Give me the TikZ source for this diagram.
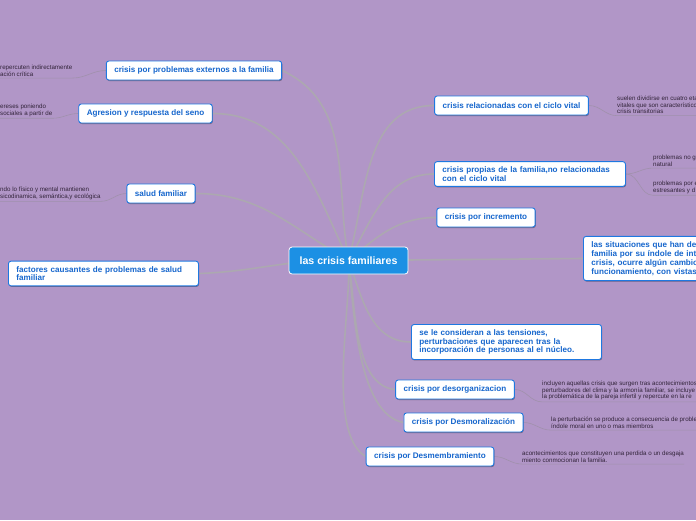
\documentclass[tikz,border=0pt]{standalone}
\usepackage{fontspec}
\setmainfont{Liberation Sans}
\usetikzlibrary{shadows}
\definecolor{bgc}{RGB}{177,150,199}
\definecolor{boxblue}{RGB}{30,120,225}
\definecolor{txtblue}{RGB}{22,102,205}
\definecolor{rootblue}{RGB}{28,144,228}
\definecolor{connc}{RGB}{172,168,176}
\definecolor{subc}{RGB}{160,145,172}
\definecolor{sidec}{RGB}{50,36,58}
\pgfdeclarelayer{bglayer}\pgfsetlayers{bglayer,main}
\begin{document}
\begin{tikzpicture}[x=1pt,y=-1pt,
 box/.style={draw=boxblue, line width=0.9pt, fill=white, rounded corners=2.5pt,
   font=\fontsize{8.1}{8.7}\selectfont\bfseries, text=txtblue, inner xsep=8pt, inner ysep=5pt,
   minimum height=19pt, align=left,
   drop shadow={shadow xshift=0.6pt, shadow yshift=-1pt, opacity=0.35, fill=black}},
 rootbox/.style={draw=white, line width=0.8pt, fill=rootblue, rounded corners=3pt,
   font=\fontsize{10.6}{12}\selectfont\bfseries, text=white, minimum width=119pt, minimum height=27pt, inner sep=2pt},
 sidetxt/.style={font=\fontsize{6.2}{6.6}\selectfont, text=sidec, inner sep=0pt, anchor=north west, align=left},
 link/.style={draw=connc, line width=1.6pt},
 sublink/.style={draw=subc, line width=0.6pt}]
\useasboundingbox (0,0) rectangle (696,520);
\clip (0,0) rectangle (696,520);

\node[rootbox] (root) at (348.5,260.5) {las crisis familiares};

\node[box] (n1) at (194,70.5) {crisis por problemas externos a la familia};
\node[box] (n2) at (145.5,113.5) {Agresion y respuesta del seno};
\node[box] (n3) at (161,193.5) {salud familiar};
\node[box, anchor=west, text width=174pt] (n4) at (8,273.5) {factores causantes de problemas de salud\\familiar};
\node[box] (n5) at (511.5,105.5) {crisis relacionadas con el ciclo vital};
\node[box, anchor=west, text width=175pt] (n6) at (434,174) {crisis propias de la familia,no relacionadas\\con el ciclo vital};
\node[box] (n7) at (486,217.5) {crisis por incremento};
\node[box, anchor=west, text width=170pt, font=\fontsize{8.1}{9}\selectfont\bfseries] (n8) at (583,258.5) {las situaciones que han de\\familia por su índole de int\\crisis, ocurre algún cambio\\funcionamiento, con vistas};
\node[box, anchor=west, text width=174pt] (n9) at (411,342) {se le consideran a las tensiones,\\perturbaciones que aparecen tras la\\incorporación de personas al el núcleo.};
\node[box] (n10) at (455,389.5) {crisis por desorganizacion};
\node[box] (n11) at (463.5,422.5) {crisis por Desmoralización};
\node[box] (n12) at (430,456.5) {crisis por Desmembramiento};

\node[sidetxt] (t1) at (0,65) {repercuten indirectamente\\ación crítica};
\node[sidetxt] (t2) at (0,104) {ereses poniendo\\sociales a partir de};
\node[sidetxt] (t3) at (0,187) {ndo lo físico y mental mantienen\\sicodinamica, semántica,y ecológica};
\node[sidetxt] (t5) at (617,96) {suelen dividirse en cuatro eta\\vitales que son característico\\crisis transitorias};
\node[sidetxt] (t6a) at (653,155) {problemas no g\\natural};
\node[sidetxt] (t6b) at (653,181) {problemas por e\\estresantes y d};
\node[sidetxt] (t10) at (542,381) {incluyen aquellas crisis que surgen tras acontecimientos\\perturbadores del clima y la armonía familiar, se incluye\\la problemática de la pareja infertil y repercute en la re};
\node[sidetxt] (t11) at (551,417) {la perturbación se produce a consecuencia de proble\\índole moral en uno o mas miembros};
\node[sidetxt] (t12) at (522,451) {acontecimientos que constituyen una perdida o un desgaja\\miento conmocionan la familia.};

\begin{pgfonlayer}{bglayer}
\fill[bgc] (0,0) rectangle (696,520);
\draw[link] (root.center) to[out=100,in=-25] (n1.east);
\draw[link] (root.center) to[out=115,in=0] (n2.east);
\draw[link] (root.center) to[out=150,in=0] (n3.east);
\draw[link] (root.center) to[out=178,in=2] (n4.east);
\draw[link] (root.center) to[out=75,in=180] (n5.west);
\draw[link] (root.center) to[out=60,in=180] (n6.west);
\draw[link] (root.center) to[out=40,in=180] (n7.west);
\draw[link] (root.center) -- (n8.west);
\draw[link] (root.center) to[out=-70,in=180] (n9.west);
\draw[link] (root.center) to[out=-80,in=175,looseness=0.8] (n10.west);
\draw[link] (root.center) to[out=-84,in=170,looseness=0.7] (n11.west);
\draw[link] (root.center) to[out=-86,in=150,looseness=0.6] (n12.west);

\draw[sublink] (n1.west) to[out=180,in=0] ([yshift=-1.5pt]t1.south east) -- ([yshift=-1.5pt]t1.south west);
\draw[sublink] (n2.west) to[out=180,in=0] ([yshift=-1.5pt]t2.south east) -- ([yshift=-1.5pt]t2.south west);
\draw[sublink] (n3.west) to[out=180,in=0] ([yshift=-1.5pt]t3.south east) -- ([yshift=-1.5pt]t3.south west);
\draw[sublink] (n5.east) to[out=0,in=180] ([yshift=-1.5pt]t5.south west) -- ([yshift=-1.5pt]t5.south east);
\draw[sublink] (n6.east) to[out=0,in=180] ([yshift=-1.5pt]t6a.south west) -- ([yshift=-1.5pt]t6a.south east);
\draw[sublink] (n6.east) to[out=0,in=180] ([yshift=-1.5pt]t6b.south west) -- ([yshift=-1.5pt]t6b.south east);
\draw[sublink] (n10.east) to[out=0,in=180] ([yshift=-1.5pt]t10.south west) -- ([yshift=-1.5pt]t10.south east);
\draw[sublink] (n11.east) to[out=0,in=180] ([yshift=-1.5pt]t11.south west) -- ([yshift=-1.5pt]t11.south east);
\draw[sublink] (n12.east) to[out=0,in=180] ([yshift=-1.5pt]t12.south west) -- ([yshift=-1.5pt]t12.south east);
\end{pgfonlayer}
\end{tikzpicture}
\end{document}
